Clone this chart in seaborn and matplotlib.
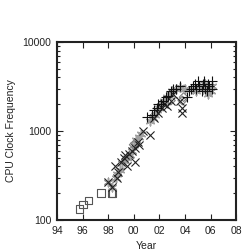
import numpy as np
import pandas as pd
import matplotlib
matplotlib.use("Agg")
import matplotlib.pyplot as plt
import matplotlib.ticker as mticker
import seaborn as sns

# data (year, MHz)
sq_year = [1995.75, 1996.05, 1996.45, 1997.45, 1998.25, 1998.35]
sq_mhz = [133, 150, 166, 200, 200, 200]

x_year = [1998.0, 1998.3, 1998.5, 1998.7, 1998.8, 1999.0, 1999.2, 1999.3, 1999.5,
          1999.6, 1999.9, 2000.1, 2000.3, 2000.4, 2000.1, 2000.7, 2001.3, 2001.6,
          2001.9, 2002.2, 2002.4, 2002.6, 2002.9, 2003.1, 2003.6, 2003.8, 2003.8]
x_mhz = [266, 233, 400, 300, 350, 450, 500, 533, 400, 550, 600, 650, 750, 700,
         450, 1000, 900, 1400, 1600, 1800, 2000, 1900, 2200, 2600, 2200, 1800, 1600]

p_year = [2001.0, 2001.4, 2001.6, 2001.8, 2001.9, 2002.1, 2002.3, 2002.5, 2002.7,
          2002.9, 2003.1, 2003.3, 2003.6, 2004.2, 2004.3, 2004.5, 2004.6, 2004.8,
          2004.9, 2005.0, 2005.1, 2005.3, 2005.4, 2005.5, 2005.6, 2005.7, 2005.8,
          2005.9, 2006.1, 2006.1]
p_mhz = [1450, 1500, 1700, 1800, 2000, 2000, 2200, 2400, 2500, 2800, 3000, 3000,
         3200, 2400, 2800, 3000, 3200, 3400, 3000, 3600, 3200, 2800, 3400, 3600,
         3000, 2800, 3400, 3200, 3600, 3000]

s_year = [1998.0, 1998.3, 1998.6, 1998.7, 1998.9, 1999.1, 1999.3, 1999.5, 1999.7,
          1999.9, 2000.0, 2000.2, 2000.4, 2000.6, 2001.3, 2001.5, 2001.7, 2001.8,
          2002.0, 2002.2, 2002.4, 2002.6, 2002.8, 2003.0, 2003.3, 2003.6, 2004.0,
          2004.6, 2004.9, 2005.1, 2005.4, 2005.6, 2005.8, 2006.0, 2006.1]
s_mhz = [266, 233, 300, 333, 366, 433, 466, 500, 533, 600, 700, 800, 866, 933,
         1300, 1400, 1500, 1700, 1800, 2000, 2200, 2400, 2600, 2800, 3000, 3100,
         3000, 3000, 2800, 3200, 3000, 3400, 2600, 2800, 3200]

d_year = [2000.0, 2002.9, 2003.8, 2003.9]
d_mhz = [700, 2200, 2200, 2400]

x_ticks = list(range(1994, 2009, 2))

sns.set_style("ticks")
plt.rcParams['font.family'] = ['Liberation Sans', 'DejaVu Sans']

fig = plt.figure(figsize=(2.52, 2.50), dpi=100)
ax = fig.add_axes([0.226, 0.12, 0.711, 0.712])

gray = "#7f7f7f"
sns.scatterplot(x=sq_year, y=sq_mhz, marker="s", s=30, facecolor="none",
                edgecolor="#555555", linewidth=0.8, ax=ax)
sns.scatterplot(x=s_year, y=s_mhz, marker=(6, 2, 0), s=38, color="#a0a0a0",
                linewidth=1.1, ax=ax)
sns.scatterplot(x=d_year, y=d_mhz, marker="D", s=20, facecolor="none",
                edgecolor=gray, linewidth=0.8, ax=ax)
sns.scatterplot(x=x_year, y=x_mhz, marker="x", s=34, color="#222222",
                linewidth=0.8, ax=ax)
sns.scatterplot(x=p_year, y=p_mhz, marker="+", s=50, color="#111111",
                linewidth=0.8, ax=ax)

ax.set_yscale("log")
ax.set_ylim(100, 10000)
ax.set_xlim(1994, 2008)
ax.set_xticks(x_ticks)
ax.set_xticklabels(["%02d" % (t % 100) for t in x_ticks])
ax.yaxis.set_major_formatter(mticker.FuncFormatter(lambda v, p: "%d" % v))
ax.yaxis.set_minor_formatter(mticker.NullFormatter())

ax.tick_params(which="both", direction="in", top=True, right=True,
               labelsize=7.5, colors="#222222", width=0.8)
ax.tick_params(which="major", length=4, pad=4)
ax.tick_params(which="minor", length=2)
for sp in ax.spines.values():
    sp.set_linewidth(1.5)
    sp.set_color("#222222")

ax.set_xlabel("Year", fontsize=7.5, color="#222222", labelpad=4)
ax.set_ylabel("CPU Clock Frequency", fontsize=7.5, color="#222222", labelpad=5)

fig.savefig("out.png", dpi=100)
